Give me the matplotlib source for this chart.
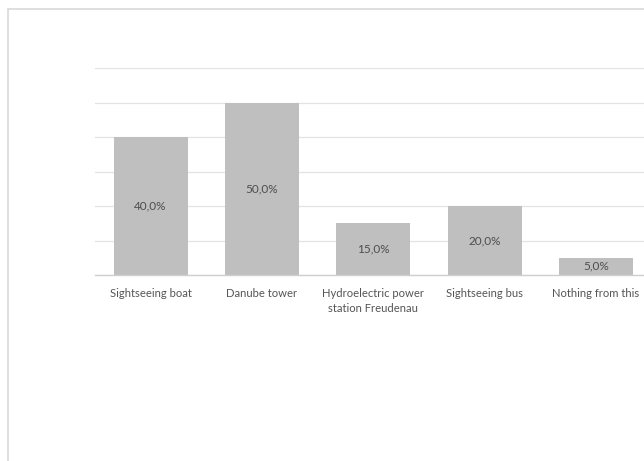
import matplotlib
matplotlib.use("Agg")
import matplotlib.pyplot as plt
from matplotlib.patches import Rectangle

categories = ["Sightseeing boat", "Danube tower", "Hydroelectric power\nstation Freudenau",
              "Sightseeing bus", "Nothing from this"]
values = [40.0, 50.0, 15.0, 20.0, 5.0]
value_labels = ["40,0%", "50,0%", "15,0%", "20,0%", "5,0%"]

W, H = 644, 461
fig = plt.figure(figsize=(W / 100, H / 100), dpi=100)
fig.patch.set_facecolor("white")

# chart frame, running off the right and bottom edges
fig.patches.append(Rectangle((7.5 / W, -0.1), 1.2, 1.1 - 9.5 / H, transform=fig.transFigure,
                             fill=False, edgecolor="#d9d9d9", linewidth=1.2))

left, right = 95, 651.5
base, top = 275, 68
ax = fig.add_axes([left / W, (H - base) / H, (right - left) / W, (base - top) / H])
ax.set_facecolor("none")
ax.set_clip_on(False)

FONT = "Lato"
x = range(len(categories))
ax.bar(x, values, width=0.665, color="#bfbfbf", zorder=2)
for xi, v, lab in zip(x, values, value_labels):
    ax.text(xi, v / 2, lab, ha="center", va="center", fontsize=8.5,
            color="#4d4d4d", family=FONT, zorder=3)

ax.set_xlim(-0.5, 4.5)
ax.set_ylim(0, 60)
ax.set_yticks(range(0, 61, 10))
ax.yaxis.grid(True, color="#e3e3e3", linewidth=0.9, zorder=0)
ax.tick_params(axis="y", left=False, labelleft=False)
ax.set_xticks(list(x))
ax.set_xticklabels(categories, fontsize=8.1, color="#555555", family=FONT, linespacing=1.4)
ax.tick_params(axis="x", length=0, pad=9.5)
for s in ["top", "right", "left"]:
    ax.spines[s].set_visible(False)
ax.spines["bottom"].set_color("#cfcfcf")
ax.spines["bottom"].set_linewidth(1.0)
ax.spines["bottom"].set_zorder(4)

fig.savefig("out.png", dpi=100)
